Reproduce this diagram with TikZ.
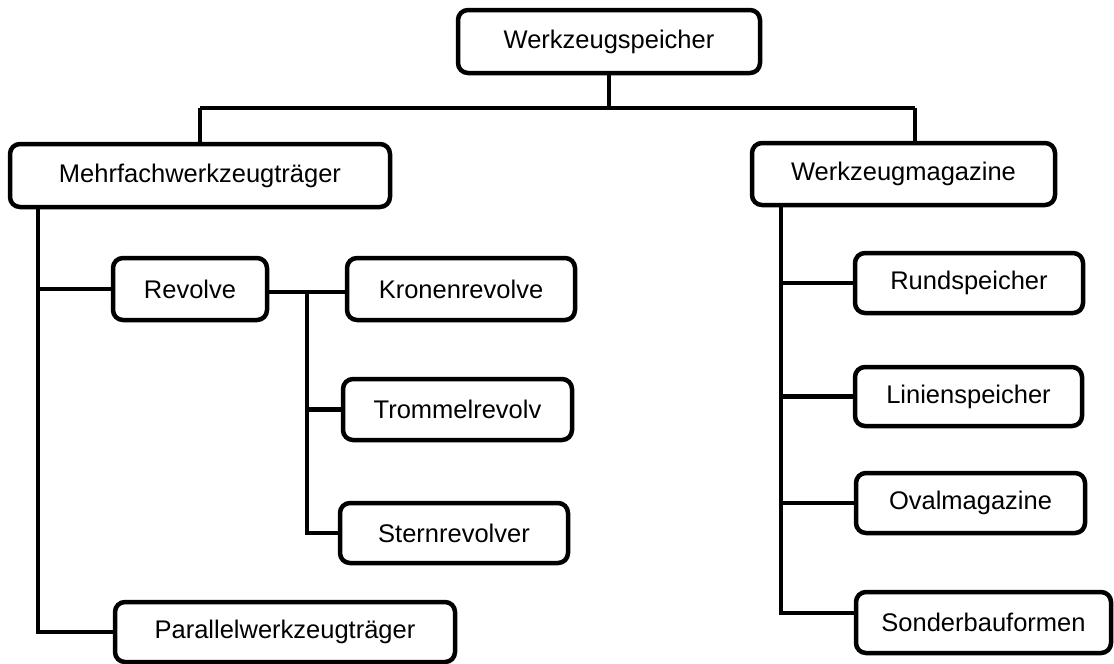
\documentclass[tikz,border=0pt]{standalone}
\usepackage{fontspec}
\setmainfont{Liberation Sans}
\begin{document}
\begin{tikzpicture}[x=1pt,y=-1pt,
  box/.style={draw=black, line width=4.5pt, rounded corners=10pt, fill=white,
    inner sep=0pt, font=\fontsize{25.5}{30}\selectfont},
  conn/.style={draw=black, line width=4.5pt}]
\useasboundingbox (0,0) rectangle (1114,664);
% nodes
\node[box, minimum width=302pt, minimum height=63pt] (top)  at (609,41.5) {Werkzeugspeicher};
\node[box, minimum width=380pt, minimum height=63pt] (mehr) at (200,175.5) {Mehrfachwerkzeugträger};
\node[box, minimum width=303pt, minimum height=62pt] (mag)  at (903.5,174) {Werkzeugmagazine};
\node[box, minimum width=154pt, minimum height=62pt] (rev)  at (190,289) {Revolve};
\node[box, minimum width=228pt, minimum height=62pt] (kron) at (461,289) {Kronenrevolve};
\node[box, minimum width=229pt, minimum height=61pt] (trom) at (457.5,409.5) {Trommelrevolv};
\node[box, minimum width=228pt, minimum height=60pt] (stern) at (454,533) {Sternrevolver};
\node[box, minimum width=340pt, minimum height=60pt] (par)  at (285,632) {Parallelwerkzeugträger};
\node[box, minimum width=228pt, minimum height=60pt] (rund) at (969,283) {Rundspeicher};
\node[box, minimum width=227pt, minimum height=59pt] (lin)  at (968.5,396.5) {Linienspeicher};
\node[box, minimum width=229pt, minimum height=60pt] (oval) at (970.5,503) {Ovalmagazine};
\node[box, minimum width=255pt, minimum height=61pt] (sond) at (983.5,622.5) {Sonderbauformen};
% coordinates
\coordinate (barL) at (200,108);
\coordinate (barM) at (609,108);
\coordinate (barR) at (915,108);
\coordinate (magT) at (915,143);
\coordinate (lt) at (38,207);
\coordinate (rt) at (781,205);
\coordinate (st) at (307,292);
\coordinate (sondJ) at (855,613);
% connectors
\draw[conn] (top.south) -- (barM);
\draw[conn] (barL) -- (barR);
\draw[conn] (barL) -- (mehr.north);
\draw[conn] (barR) -- (magT);
\draw[conn] (lt) |- (par.west);
\draw[conn] (lt |- rev.west) -- (rev.west);
\draw[conn] (rev.east |- st) -- (kron.west |- st);
\draw[conn] (st) |- (stern.west);
\draw[conn] (st |- trom.west) -- (trom.west);
\draw[conn] (rt) |- (sondJ);
\draw[conn] (rt |- rund.west) -- (rund.west);
\draw[conn] (rt |- lin.west) -- (lin.west);
\draw[conn] (rt |- oval.west) -- (oval.west);
\end{tikzpicture}
\end{document}
